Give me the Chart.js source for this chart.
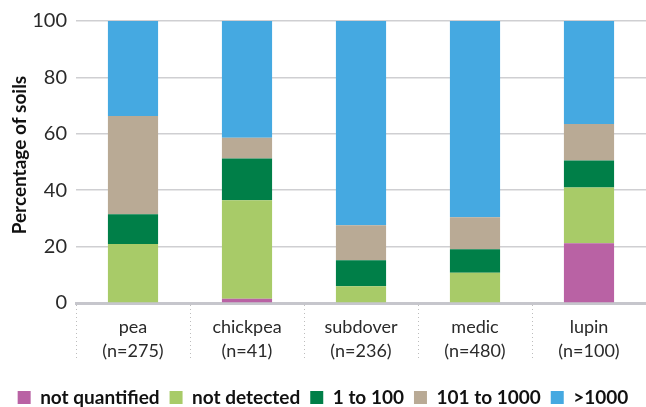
<!DOCTYPE html>
<html>
<head>
<meta charset="utf-8">
<script src="https://cdn.jsdelivr.net/npm/chart.js@4/dist/chart.umd.min.js"></script>
<style>
html,body{margin:0;padding:0;background:#fff;}
#wrap{width:646px;height:407px;position:relative;}
</style>
</head>
<body>
<div id="wrap"><canvas id="c"></canvas></div>
<script>
const categories = [["pea","(n=275)"],["chickpea","(n=41)"],["subdover","(n=236)"],["medic","(n=480)"],["lupin","(n=100)"]];
const seriesNames = ["not quantified","not detected","1 to 100","101 to 1000",">1000"];
const notQuantified = [0, 1.5, 0, 0, 21.2];
const notDetected = [20.9, 34.9, 5.9, 10.7, 19.8];
const oneTo100 = [10.6, 14.8, 9.3, 8.4, 9.5];
const to1000 = [34.8, 7.4, 12.4, 11.3, 13.0];
const over1000 = [33.7, 41.4, 72.4, 69.6, 36.5];
const yTicks = [0, 20, 40, 60, 80, 100];
const colors = ["#B962A4","#A8CB68","#007F48","#B9AA95","#45A9E1"];

const values = [notQuantified, notDetected, oneTo100, to1000, over1000];
const datasets = seriesNames.map((n,i)=>({
  label:n, data:values[i], backgroundColor:colors[i], borderWidth:0,
  barPercentage:0.44, categoryPercentage:1.0
}));

new Chart(document.getElementById('c'), {
  type:'bar',
  data:{labels:categories, datasets},
  options:{
    responsive:true, maintainAspectRatio:false, animation:false,
    layout:{padding:{left:0,right:0,top:0,bottom:-10}},
    plugins:{
      legend:{position:'bottom', labels:{boxWidth:13, boxHeight:13, padding:10,
        color:'#111', font:{family:'Lato', size:19, weight:'bold'}}},
      tooltip:{enabled:false}
    },
    scales:{
      x:{stacked:true,
        afterFit:(s)=>{s.height=75;},
        grid:{display:true, drawOnChartArea:false, drawTicks:true, tickLength:57,
          tickColor:'#bdbdbd', tickWidth:1, tickBorderDash:[1,3], offset:true},
        border:{display:true, color:'#c6c6cc', width:3},
        ticks:{padding:-45, color:'#2a2a2a', font:{family:'Lato', size:18, lineHeight:1.33}}
      },
      y:{stacked:true, min:0, max:100,
        afterFit:(s)=>{s.width=76;},
        afterBuildTicks:(s)=>{s.ticks=yTicks.map(v=>({value:v}));},
        grid:{color:'#cfcfd2', lineWidth:1.5, drawTicks:false},
        border:{display:false},
        title:{display:true, text:'\u00A0\u00A0\u00A0Percentage of soils', color:'#111',
          font:{family:'Lato', size:19, weight:'bold'}, padding:{top:8,bottom:4}},
        ticks:{padding:9, color:'#2a2a2a', font:{family:'Lato', size:20}}
      }
    }
  }
});
</script>
</body>
</html>
